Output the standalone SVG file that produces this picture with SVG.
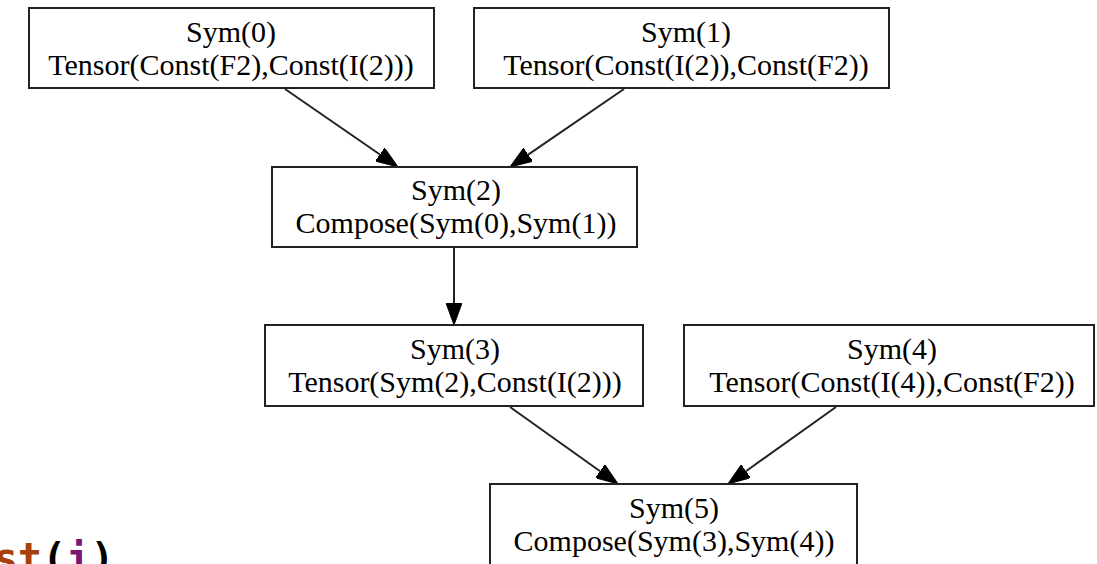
<svg xmlns="http://www.w3.org/2000/svg" width="1097" height="564" viewBox="0 0 1097 564">
<style>
.box{fill:#fff;stroke:#222;stroke-width:2}
.lbl{font-family:"Liberation Serif","Times New Roman",serif;font-size:30px;fill:#000;text-anchor:middle}
.edge{stroke:#222;stroke-width:2;fill:none}
.code{font-family:"DejaVu Sans Mono","Liberation Mono",monospace;font-weight:bold;font-size:40px}
</style>
<defs>
<marker id="arr" viewBox="0 0 22 16" refX="0" refY="8" markerWidth="22" markerHeight="16" markerUnits="userSpaceOnUse" orient="auto">
<path d="M0,0 L22,8 L0,16 z" fill="#000" stroke="#000" stroke-width="1"/>
</marker>
</defs>
<rect width="1097" height="564" fill="#fff"/>
<text class="code" x="-6" y="572"><tspan fill="#a8400c">st</tspan><tspan fill="#000">(</tspan><tspan fill="#7a1478">i</tspan><tspan fill="#000">)</tspan></text>
<g id="connectors">
<line class="edge" x1="285" y1="89" x2="379.9" y2="154.5" marker-end="url(#arr)"/>
<line class="edge" x1="624" y1="89" x2="528.2" y2="154.6" marker-end="url(#arr)"/>
<line class="edge" x1="454" y1="248" x2="454" y2="303" marker-end="url(#arr)"/>
<line class="edge" x1="510" y1="407" x2="600.1" y2="471.2" marker-end="url(#arr)"/>
<line class="edge" x1="836" y1="407" x2="745.9" y2="471.2" marker-end="url(#arr)"/>
</g>
<g id="sym0">
<rect class="box" x="29" y="8" width="405" height="80"/>
<text class="lbl" x="231" y="42">Sym(0)</text>
<text class="lbl" x="231" y="75">Tensor(Const(F2),Const(I(2)))</text>
</g>
<g id="sym1">
<rect class="box" x="474" y="8" width="415" height="80"/>
<text class="lbl" x="686" y="42">Sym(1)</text>
<text class="lbl" x="686" y="75">Tensor(Const(I(2)),Const(F2))</text>
</g>
<g id="sym2">
<rect class="box" x="272" y="167" width="365" height="80"/>
<text class="lbl" x="456" y="200">Sym(2)</text>
<text class="lbl" x="456" y="233">Compose(Sym(0),Sym(1))</text>
</g>
<g id="sym3">
<rect class="box" x="265" y="325" width="378" height="81"/>
<text class="lbl" x="455" y="359">Sym(3)</text>
<text class="lbl" x="455" y="392">Tensor(Sym(2),Const(I(2)))</text>
</g>
<g id="sym4">
<rect class="box" x="684" y="325" width="410" height="81"/>
<text class="lbl" x="892" y="359">Sym(4)</text>
<text class="lbl" x="892" y="392">Tensor(Const(I(4)),Const(F2))</text>
</g>
<g id="sym5">
<rect class="box" x="490" y="484" width="367" height="82"/>
<text class="lbl" x="674" y="518">Sym(5)</text>
<text class="lbl" x="674" y="551">Compose(Sym(3),Sym(4))</text>
</g>
</svg>
